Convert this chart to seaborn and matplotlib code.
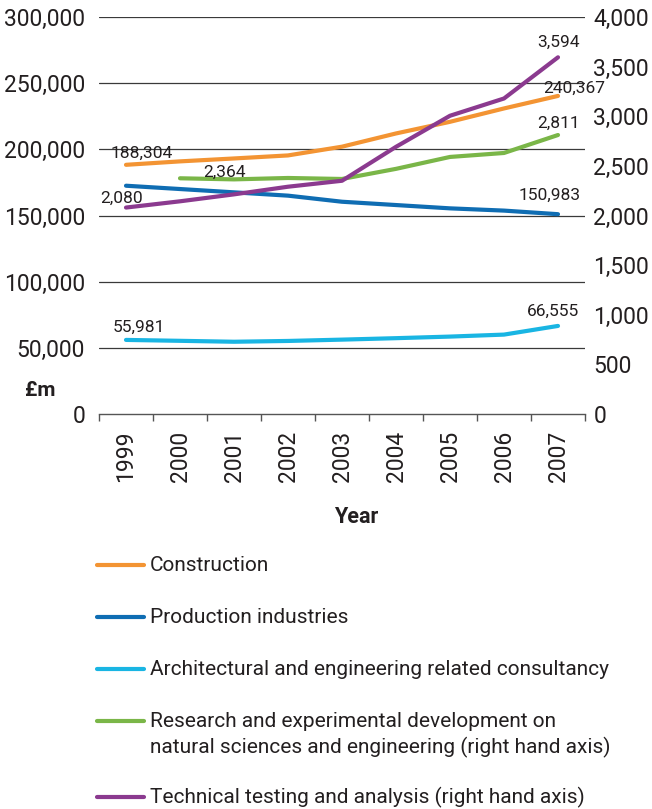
import matplotlib
matplotlib.use("Agg")
import matplotlib.pyplot as plt
import matplotlib.ticker as mticker
from matplotlib.lines import Line2D
import numpy as np
import pandas as pd
import seaborn as sns

# Years and series values (£m)
years = ["1999", "2000", "2001", "2002", "2003", "2004", "2005", "2006", "2007"]
construction = [188304, 190900, 193100, 195400, 202000, 212000, 220800, 230900, 240367]
production = [172500, 170000, 167500, 165000, 160400, 157900, 155400, 153700, 150983]
consultancy = [55981, 55300, 54600, 55200, 56200, 57300, 58500, 60000, 66555]
# right hand axis series
research = [np.nan, 2375, 2364, 2378, 2368, 2470, 2590, 2630, 2811]
testing = [2080, 2143, 2213, 2290, 2350, 2692, 3005, 3179, 3594]

left_ticks = [0, 50000, 100000, 150000, 200000, 250000, 300000]
right_ticks = [0, 500, 1000, 1500, 2000, 2500, 3000, 3500, 4000]

names = [
    "Construction",
    "Production industries",
    "Architectural and engineering related consultancy",
    "Research and experimental development on\nnatural sciences and engineering (right hand axis)",
    "Technical testing and analysis (right hand axis)",
]
colors = ["#F39433", "#0F6DB3", "#19B5E3", "#7AB648", "#8B3A8F"]

sns.set_theme(style="white")
plt.rcParams["font.family"] = ["Roboto", "DejaVu Sans"]
text_color = "#231F20"

fig = plt.figure(figsize=(6.52, 8.09), dpi=100)
W, H = 652, 809
x0, x1, ytop, ybot = 99, 585, 17, 414
ax = fig.add_axes([x0 / W, 1 - ybot / H, (x1 - x0) / W, (ybot - ytop) / H])
ax2 = ax.twinx()

idx = np.arange(len(years))
df = pd.DataFrame({
    "x": idx,
    "construction": construction,
    "production": production,
    "consultancy": consultancy,
    "research": research,
    "testing": testing,
})

lw = 3.0
for col, c in zip(["construction", "production", "consultancy"], colors[:3]):
    d = df[["x", col]].dropna()
    sns.lineplot(data=d, x="x", y=col, ax=ax, color=c, lw=lw, zorder=3)
for col, c in zip(["research", "testing"], colors[3:]):
    d = df[["x", col]].dropna()
    sns.lineplot(data=d, x="x", y=col, ax=ax2, color=c, lw=lw, zorder=3)

ax.set_xlim(-0.5, len(years) - 0.5)
ax.set_ylim(0, 300000)
ax2.set_ylim(0, 4000)

# gridlines from the left axis
for v in left_ticks[1:]:
    ax.axhline(v, color="#3a3a3a", lw=0.9, zorder=1)

tick_size = 16.5
ax.set_yticks(left_ticks)
ax.yaxis.set_major_formatter(mticker.FuncFormatter(lambda v, p: f"{int(v):,}"))
ax2.set_yticks(right_ticks)
ax2.yaxis.set_major_formatter(mticker.FuncFormatter(lambda v, p: f"{int(v):,}"))

ax.set_xticks(idx)
ax.set_xticklabels(years, rotation=90, fontsize=16.5, color=text_color)
ax.set_xticks(np.arange(-0.5, len(years), 1.0), minor=True)
ax.tick_params(axis="x", which="major", length=0, pad=12)
ax.tick_params(axis="x", which="minor", length=5, width=1, color="#555555", direction="out", bottom=True)
ax.tick_params(axis="y", length=0, pad=10, labelsize=tick_size, labelcolor=text_color)
ax2.tick_params(axis="y", length=0, pad=6, labelsize=tick_size, labelcolor=text_color)

for a in (ax, ax2):
    for s in ("top", "left", "right"):
        a.spines[s].set_visible(False)
    a.set_xlabel("")
    a.set_ylabel("")
ax.spines["bottom"].set_color("#555555")
ax.spines["bottom"].set_linewidth(1)
ax2.spines["bottom"].set_visible(False)

# value labels at the series ends
lab_kw = dict(textcoords="offset pixels", ha="center", va="center", fontsize=12.5, color=text_color, zorder=5)
ax.annotate(f"{construction[0]:,}", (0, construction[0]), xytext=(16, 11), **lab_kw)
ax.annotate(f"{construction[-1]:,}", (8, construction[-1]), xytext=(16, 8), **lab_kw)
ax.annotate(f"{production[-1]:,}", (8, production[-1]), xytext=(-8, 19), **lab_kw)
ax.annotate(f"{consultancy[0]:,}", (0, consultancy[0]), xytext=(13, 13), **lab_kw)
ax.annotate(f"{consultancy[-1]:,}", (8, consultancy[-1]), xytext=(-5, 15), **lab_kw)
ax2.annotate(f"{research[2]:,}", (2, research[2]), xytext=(-10, 7), **lab_kw)
ax2.annotate(f"{research[-1]:,}", (8, research[-1]), xytext=(1, 12), **lab_kw)
ax2.annotate(f"{testing[0]:,}", (0, testing[0]), xytext=(-4, 9), **lab_kw)
ax2.annotate(f"{testing[-1]:,}", (8, testing[-1]), xytext=(0, 15), **lab_kw)

fig.text(40 / W, 1 - 390 / H, "£m", fontsize=15, fontweight="bold", ha="center", va="center", color=text_color)
fig.text(356 / W, 1 - 517 / H, "Year", fontsize=15.5, fontweight="bold", ha="center", va="center", color=text_color)

# legend rows: one swatch per series, text lines 26 px apart
rows = [565, 617, 669, 721, 797]
for name, c, y in zip(names, colors, rows):
    fig.add_artist(Line2D([97 / W, 144 / W], [1 - y / H, 1 - y / H], color=c, lw=lw,
                          transform=fig.transFigure))
    for k, line in enumerate(name.split("\n")):
        fig.text(150 / W, 1 - (y + 6 + 26 * k) / H, line, fontsize=15, ha="left", va="baseline",
                 color=text_color)

fig.savefig("out.png", dpi=100)
